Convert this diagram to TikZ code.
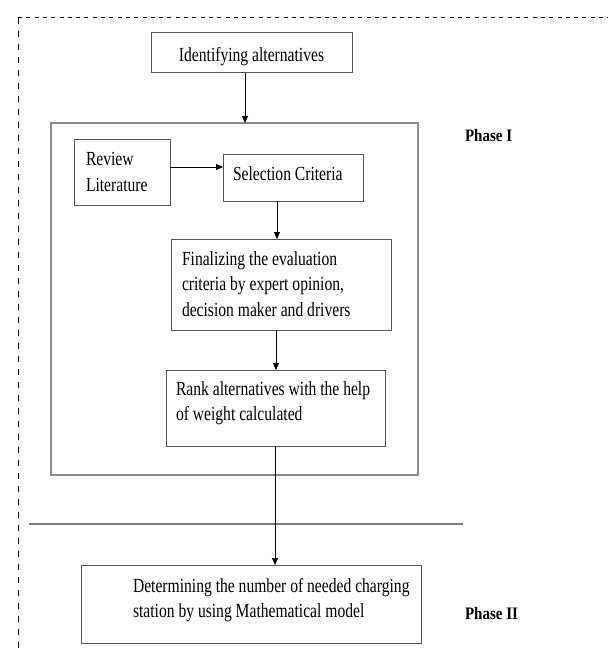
\documentclass[tikz,border=0pt]{standalone}
\usepackage{fontspec}
\setmainfont[FakeStretch=0.78]{Liberation Serif}
\newfontfamily\phasefont[FakeStretch=0.86]{Liberation Serif}
\usetikzlibrary{arrows.meta,calc}
\definecolor{boxgray}{RGB}{85,85,85}
\definecolor{biggray}{RGB}{140,140,140}
\definecolor{linegray}{RGB}{125,125,125}
\newcommand{\txtlines}[1]{\begin{tabular}[t]{@{}l@{}}#1\end{tabular}}
\begin{document}
\begin{tikzpicture}[x=1pt,y=-1pt,
  box/.style={draw=boxgray,line width=1pt,rectangle,inner sep=0pt,outer sep=0pt,anchor=north west},
  bigbox/.style={draw=biggray,line width=1.4pt,rectangle,inner sep=0pt,outer sep=0pt,anchor=north west},
  txt/.style={inner sep=0pt,outer sep=0pt,font=\fontsize{20}{25.5}\selectfont},
  phaselbl/.style={inner sep=0pt,outer sep=0pt,anchor=base west,font=\phasefont\bfseries\fontsize{17.5}{21}\selectfont},
  arr/.style={draw=black,line width=0.9pt,-{Triangle[length=7pt,width=6pt]}},
  border/.style={draw=black,line width=1pt}
]
\useasboundingbox (0,0) rectangle (608,650);
\fill[white] (0,0) rectangle (608,650);
% dashed outer border
\draw[border,dash pattern=on 4pt off 4.3pt] (18,18) -- (608,18);
\draw[border,dash pattern=on 6pt off 7pt] (18,18) -- (18,650);
% boxes
\node[box,minimum width=201pt,minimum height=40pt] (identbox) at (151,33) {};
\node[bigbox,minimum width=367pt,minimum height=352pt] (bigbox) at (51,123) {};
\node[box,minimum width=96pt,minimum height=66pt] (reviewbox) at (74,139) {};
\node[box,minimum width=140pt,minimum height=47pt] (selectbox) at (223,154) {};
\node[box,minimum width=220pt,minimum height=91pt] (finalbox) at (171,239) {};
\node[box,minimum width=219pt,minimum height=76pt] (rankbox) at (166,370) {};
\node[box,minimum width=340pt,minimum height=78pt] (p2box) at (81,565) {};
% texts
\node[txt,anchor=base] (identtxt) at (251.5,61.5) {Identifying alternatives};
\node[txt,anchor=base west] (reviewtxt) at (86,165.5) {\txtlines{Review\\Literature}};
\node[txt,anchor=base west] (selecttxt) at (233,180) {Selection Criteria};
\node[txt,anchor=base west] (finaltxt) at (182,265) {\txtlines{Finalizing the evaluation\\criteria by expert opinion,\\decision maker and drivers}};
\node[txt,anchor=base west] (ranktxt) at (176,395) {\txtlines{Rank alternatives with the help\\of weight calculated}};
\node[txt,anchor=base west] (p2txt) at (133,592) {\txtlines{Determining the number of needed charging\\station by using Mathematical model}};
\node[phaselbl] (phase1) at (465,141.5) {Phase I};
\node[phaselbl] (phase2) at (465,619) {Phase II};
% separator line
\coordinate (sepL) at (29,524);
\coordinate (sepR) at (463,524);
\draw[draw=linegray,line width=1.3pt] (sepL) -- (sepR);
% arrows
\draw[arr] ([xshift=-6.5pt]identbox.south) -- ([xshift=-6.5pt]identbox.south |- bigbox.north);
\draw[arr] (reviewbox.east |- 0,167) -- (selectbox.west |- 0,167);
\draw[arr] (selectbox.south -| 277,0) -- (finalbox.north -| 277,0);
\draw[arr] (finalbox.south -| 276,0) -- (rankbox.north -| 276,0);
\draw[arr] (rankbox.south -| 275,0) -- (p2box.north -| 275,0);
\end{tikzpicture}
\end{document}
